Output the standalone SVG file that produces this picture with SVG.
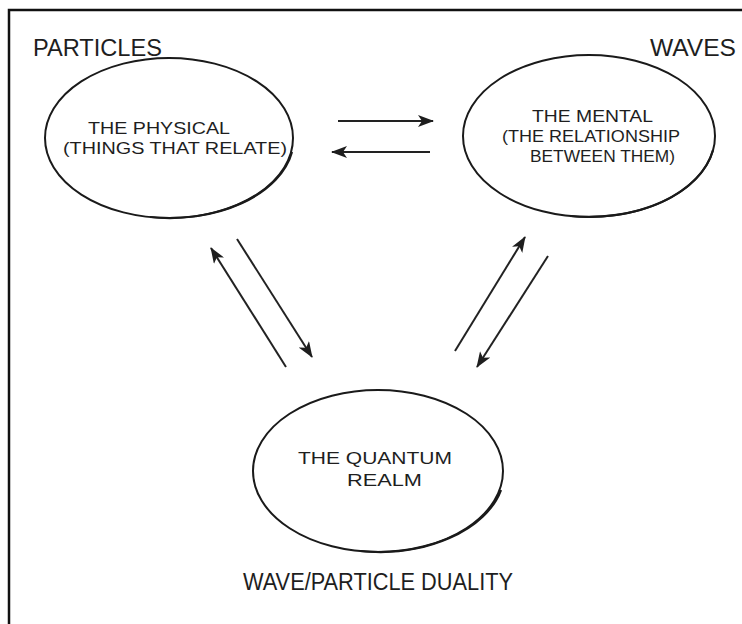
<svg xmlns="http://www.w3.org/2000/svg" width="742" height="624" viewBox="0 0 742 624">
<defs>
<style>
.frame{fill:none;stroke:#111;stroke-width:2.5}
.node{fill:#fff;stroke:#1a1a1a;stroke-width:2}
.shade{fill:none;stroke:#1a1a1a;stroke-width:2.2}
.lbl{font-family:"Liberation Sans",Arial,sans-serif;font-size:17px;fill:#1e1e1e}
.big{font-family:"Liberation Sans",Arial,sans-serif;font-size:23px;fill:#1e1e1e}
.conn{fill:none;stroke:#222;stroke-width:2;marker-end:url(#ah)}
</style>
<marker id="ah" viewBox="0 0 16 12" refX="15" refY="6" markerWidth="16" markerHeight="12" markerUnits="userSpaceOnUse" orient="auto">
<path d="M0,0 L16,6 L0,12 L4,6 Z" fill="#1e1e1e"/>
</marker>
</defs>
<rect width="742" height="624" fill="#fff"/>
<path class="frame" d="M9,630 L9,10 L745,10"/>
<text class="big" x="33" y="56" textLength="129" lengthAdjust="spacingAndGlyphs">PARTICLES</text>
<text class="big" x="650" y="56" textLength="86" lengthAdjust="spacingAndGlyphs">WAVES</text>
<g id="physical">
<ellipse class="node" cx="169" cy="138" rx="124" ry="80"/>
<path class="shade" d="M292,152 A124,80 0 0 1 150,217"/>
<text class="lbl" x="88" y="134" textLength="142" lengthAdjust="spacingAndGlyphs">THE PHYSICAL</text>
<text class="lbl" x="63" y="154" textLength="224" lengthAdjust="spacingAndGlyphs">(THINGS THAT RELATE)</text>
</g>
<g id="mental">
<ellipse class="node" cx="589" cy="136" rx="126" ry="81"/>
<path class="shade" d="M713,150 A126,81 0 0 1 570,216"/>
<text class="lbl" x="532" y="122" textLength="121" lengthAdjust="spacingAndGlyphs">THE MENTAL</text>
<text class="lbl" x="502" y="142" textLength="178" lengthAdjust="spacingAndGlyphs">(THE RELATIONSHIP</text>
<text class="lbl" x="530" y="162" textLength="145" lengthAdjust="spacingAndGlyphs">BETWEEN THEM)</text>
</g>
<g id="quantum">
<ellipse class="node" cx="378" cy="471" rx="125" ry="81"/>
<path class="shade" d="M501,490 A125,81 0 0 1 360,551"/>
<text class="lbl" x="298" y="464" textLength="154" lengthAdjust="spacingAndGlyphs">THE QUANTUM</text>
<text class="lbl" x="347" y="486" textLength="75" lengthAdjust="spacingAndGlyphs">REALM</text>
</g>
<text class="big" x="243" y="590" textLength="270" lengthAdjust="spacingAndGlyphs">WAVE/PARTICLE DUALITY</text>
<g id="connectors">
<line class="conn" x1="338" y1="121" x2="433" y2="121"/>
<line class="conn" x1="430" y1="152" x2="332" y2="152"/>
<line class="conn" x1="286" y1="367" x2="211" y2="248"/>
<line class="conn" x1="237" y1="239" x2="312" y2="357"/>
<line class="conn" x1="455" y1="351" x2="525" y2="237"/>
<line class="conn" x1="548" y1="256" x2="477" y2="367"/>
</g>
</svg>
